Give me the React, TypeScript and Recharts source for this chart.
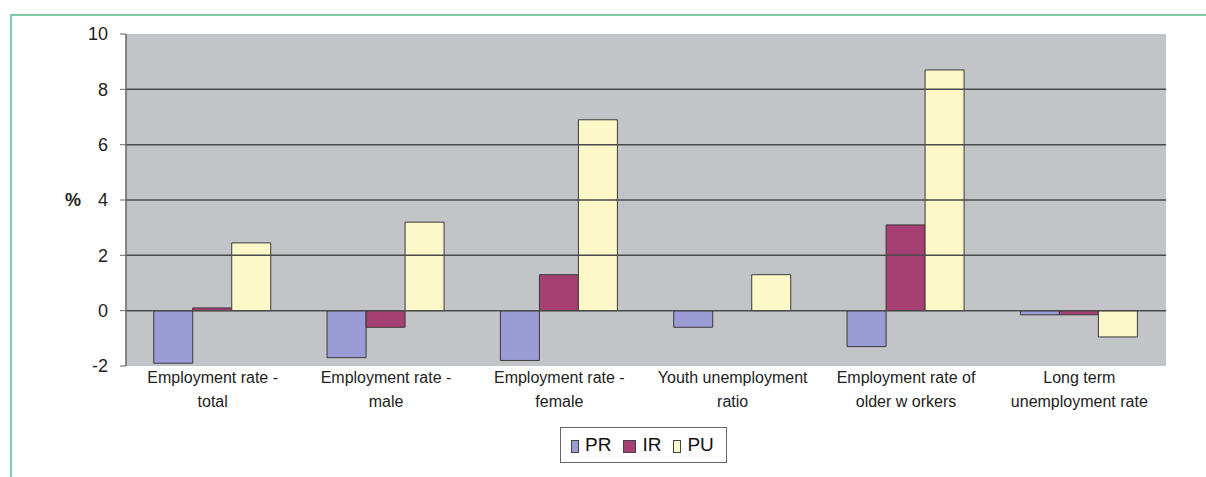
import React from 'react';
import { ComposedChart, Bar, XAxis, YAxis, CartesianGrid, ReferenceLine } from 'recharts';

const categories = [
  ['Employment rate -', 'total'],
  ['Employment rate -', 'male'],
  ['Employment rate -', 'female'],
  ['Youth unemployment', 'ratio'],
  ['Employment rate of', 'older w orkers'],
  ['Long term', 'unemployment rate'],
];
const prValues = [-1.9, -1.7, -1.8, -0.6, -1.3, -0.15];
const irValues = [0.1, -0.6, 1.3, 0, 3.1, -0.15];
const puValues = [2.45, 3.2, 6.9, 1.3, 8.7, -0.95];
const yTicks = [-2, 0, 2, 4, 6, 8, 10];
const gridValues = [0, 2, 4, 6, 8];

const series = [
  { key: 'PR', color: '#9b9bd6', mw: 6, mh: 11 },
  { key: 'IR', color: '#a63f72', mw: 11, mh: 11 },
  { key: 'PU', color: '#fdf8c8', mw: 6, mh: 11 },
];

const data = categories.map((c, i) => ({
  name: c.join('|'),
  PR: prValues[i],
  IR: irValues[i],
  PU: puValues[i],
}));

const FONT = '"Liberation Sans", Arial, sans-serif';

const XTick = (props: any) => {
  const { x, y, payload } = props;
  const lines = String(payload.value).split('|');
  return (
    <text x={x} y={y} textAnchor="middle" fontFamily={FONT} fontSize={16} fill="#222">
      {lines.map((l, i) => (
        <tspan key={i} x={x} dy={i === 0 ? 9 : 24}>{l}</tspan>
      ))}
    </text>
  );
};

const LegendBox = () => (
  <div style={{ position: 'absolute', left: 560, top: 427, height: 36, border: '1px solid #666', display: 'flex', alignItems: 'center', boxSizing: 'border-box', padding: '0 8px 0 10px', fontFamily: FONT, fontSize: 19, color: '#111', background: '#fff' }}>
    {series.map((s, i) => (
      <div key={s.key} style={{ display: 'flex', alignItems: 'center', marginRight: i < series.length - 1 ? 12 : 4 }}>
        <span style={{ display: 'inline-block', width: s.mw, height: s.mh, background: s.color, border: '1px solid #444', marginRight: 6, marginTop: 3 }} />
        <span>{s.key}</span>
      </div>
    ))}
  </div>
);

export default function App() {
  return (
    <div style={{ position: 'absolute', left: 0, top: 0, width: 1206, height: 477, background: '#fff' }}>
      <div style={{ position: 'absolute', left: 10, top: 14, width: 1196, height: 463, borderTop: '2px solid #7dcca3', borderLeft: '2px solid #7dcca3' }} />
      <div style={{ position: 'absolute', left: 0, top: 0 }}>
        <ComposedChart
          width={1206}
          height={477}
          data={data}
          margin={{ top: 34, right: 40, bottom: 0, left: 0 }}
          barCategoryGap="16%"
          barGap={0}
        >
          <CartesianGrid vertical={false} horizontal={false} fill="#c3c4c7" stroke="none" />
          {gridValues.map((v) => (
            <ReferenceLine key={v} y={v} stroke="#4a4a4a" strokeWidth={1.5} />
          ))}
          <XAxis
            dataKey="name"
            axisLine={false}
            tickLine={false}
            tick={<XTick />}
            interval={0}
            height={111}
          />
          <YAxis
            domain={[-2, 10]}
            ticks={yTicks}
            width={126}
            axisLine={{ stroke: '#666', strokeWidth: 1.5 }}
            tickLine={{ stroke: '#666' }}
            tickSize={6}
            tickMargin={12}
            tick={{ fontFamily: FONT, fontSize: 18, fill: '#222' }}
            label={{ value: '%', position: 'insideLeft', offset: 65, fontFamily: FONT, fontSize: 18, fontWeight: 'bold', fill: '#222' }}
          />
          {series.map((s) => (
            <Bar key={s.key} dataKey={s.key} fill={s.color} stroke="#3a3a3a" strokeWidth={1} isAnimationActive={false} />
          ))}
        </ComposedChart>
      </div>
      <LegendBox />
    </div>
  );
}
